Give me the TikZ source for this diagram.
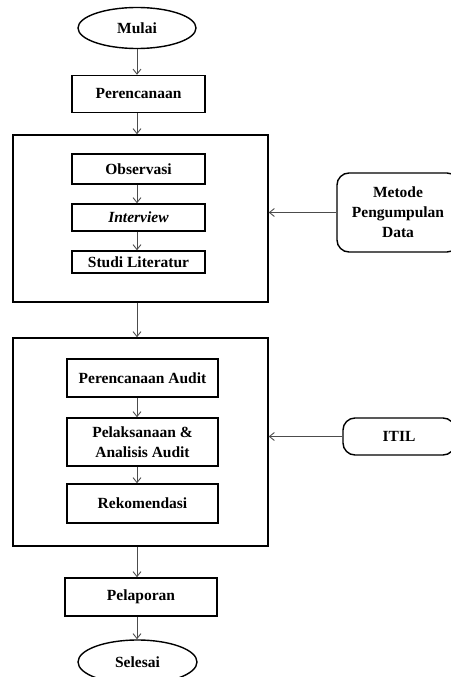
\documentclass[tikz,border=0pt]{standalone}
\usepackage{fontspec}
\setmainfont{Liberation Serif}
\usetikzlibrary{arrows.meta,shapes.geometric}
\begin{document}
\begin{tikzpicture}[x=1pt,y=-1pt,
        font=\fontsize{15.5}{20}\selectfont\bfseries,
        stepbox/.style={rectangle,draw,line width=1.4pt,align=center,inner sep=0pt},
        endsty/.style={ellipse,draw,line width=1.4pt,inner sep=0pt},
        grpsty/.style={rectangle,draw,line width=1.4pt,inner sep=0pt},
        srcsty/.style={rectangle,rounded corners=12pt,draw,line width=1.4pt,align=center,inner sep=0pt},
        arr/.style={draw=black!70,line width=0.9pt,-{Straight Barb[length=5pt,width=8pt]}},
    ]
    \useasboundingbox (0,0) rectangle (450,677);
    \node (mulai) at (137,28) [endsty, minimum width=118, minimum height=41] {Mulai};
    \node (rencana) at (138.5,94) [stepbox, minimum width=133, minimum height=37] {Perencanaan};

    \node (grpa) at (140.5,218.5) [grpsty, minimum width=255, minimum height=167] {};
    \node (obs) at (138.5,169) [stepbox, minimum width=133, minimum height=30] {Observasi};
    \node (intv) at (138.5,217.5) [stepbox, minimum width=133, minimum height=27] {\textit{Interview}};
    \node (studi) at (138.5,262) [stepbox, minimum width=133, minimum height=22] {Studi Literatur};
    \node (metode) at (398,212.5) [srcsty, minimum width=122, minimum height=79] {Metode\\Pengumpulan\\Data};

    \node (grpb) at (140.5,442) [grpsty, minimum width=255, minimum height=208] {};
    \node (paudit) at (142.5,378) [stepbox, minimum width=151, minimum height=38] {Perencanaan Audit};
    \node (pelak) at (142.5,442) [stepbox, minimum width=151, minimum height=48] {Pelaksanaan \&\\Analisis Audit};
    \node (rekom) at (142.5,503.5) [stepbox, minimum width=151, minimum height=39] {Rekomendasi};
    \node (itil) at (399,436.5) [srcsty, minimum width=112, minimum height=37] {ITIL};

    \node (lapor) at (141,597) [stepbox, minimum width=152, minimum height=38] {Pelaporan};
    \node (selesai) at (137.5,662) [endsty, minimum width=119, minimum height=44] {Selesai};

    % main flow
    \foreach \a/\b in {mulai/rencana,rencana/grpa,grpa/grpb,grpb/lapor,lapor/selesai,
        obs/intv,intv/studi,paudit/pelak,pelak/rekom}{
        \draw[arr] (\a.south -| mulai) -- (\b.north -| mulai);
    }
    % inputs
    \draw[arr] (metode.west) -- (metode.west -| grpa.east);
    \draw[arr] (itil.west) -- (itil.west -| grpb.east);
\end{tikzpicture}
\end{document}
